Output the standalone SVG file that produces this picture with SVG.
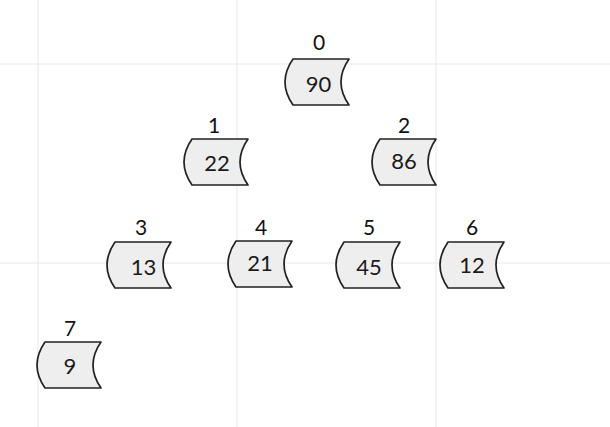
<svg xmlns="http://www.w3.org/2000/svg" xmlns:xlink="http://www.w3.org/1999/xlink" width="610" height="427" viewBox="0 0 610 427">
<style>
.grid{stroke:#e8e8e8;stroke-width:1;fill:none}
.shape{fill:#eeeeee;stroke:#222;stroke-width:1.7;stroke-linejoin:round}
.num{font-family:Lato,"Liberation Sans",sans-serif;font-size:22px;fill:#1a1a1a;text-anchor:middle}
.lbl{font-family:Lato,"Liberation Sans",sans-serif;font-size:21px;fill:#111;text-anchor:middle}
</style>
<defs>
<path id="sd" d="M 9,0 H 65 Q 49,23 65,46 H 9 Q -7,23 9,0 Z"/>
</defs>
<rect width="610" height="427" fill="#ffffff"/>
<g id="grid">
<line class="grid" x1="38" y1="0" x2="38" y2="427"/>
<line class="grid" x1="237" y1="0" x2="237" y2="427"/>
<line class="grid" x1="436" y1="0" x2="436" y2="427"/>
<line class="grid" x1="0" y1="64" x2="610" y2="64"/>
<line class="grid" x1="0" y1="263" x2="610" y2="263"/>
</g>
<g id="connectors"></g>
<g id="node0">
<text class="lbl" x="319" y="50">0</text>
<use xlink:href="#sd" href="#sd" class="shape" x="284" y="59"/>
<text class="num" x="318.5" y="92">90</text>
</g>
<g id="node1">
<text class="lbl" x="214" y="133">1</text>
<use xlink:href="#sd" href="#sd" class="shape" x="183" y="139"/>
<text class="num" x="217" y="171">22</text>
</g>
<g id="node2">
<text class="lbl" x="404" y="133">2</text>
<use xlink:href="#sd" href="#sd" class="shape" x="371" y="139"/>
<text class="num" x="404" y="169">86</text>
</g>
<g id="node3">
<text class="lbl" x="141" y="235">3</text>
<use xlink:href="#sd" href="#sd" class="shape" x="106" y="242"/>
<text class="num" x="143.5" y="275">13</text>
</g>
<g id="node4">
<text class="lbl" x="261" y="235">4</text>
<use xlink:href="#sd" href="#sd" class="shape" x="227" y="241"/>
<text class="num" x="260" y="271">21</text>
</g>
<g id="node5">
<text class="lbl" x="369" y="235">5</text>
<use xlink:href="#sd" href="#sd" class="shape" x="335" y="242"/>
<text class="num" x="369" y="275">45</text>
</g>
<g id="node6">
<text class="lbl" x="472" y="235">6</text>
<use xlink:href="#sd" href="#sd" class="shape" x="439" y="242"/>
<text class="num" x="472" y="273">12</text>
</g>
<g id="node7">
<text class="lbl" x="70" y="336">7</text>
<use xlink:href="#sd" href="#sd" class="shape" x="36" y="342"/>
<text class="num" x="70" y="374">9</text>
</g>
</svg>
